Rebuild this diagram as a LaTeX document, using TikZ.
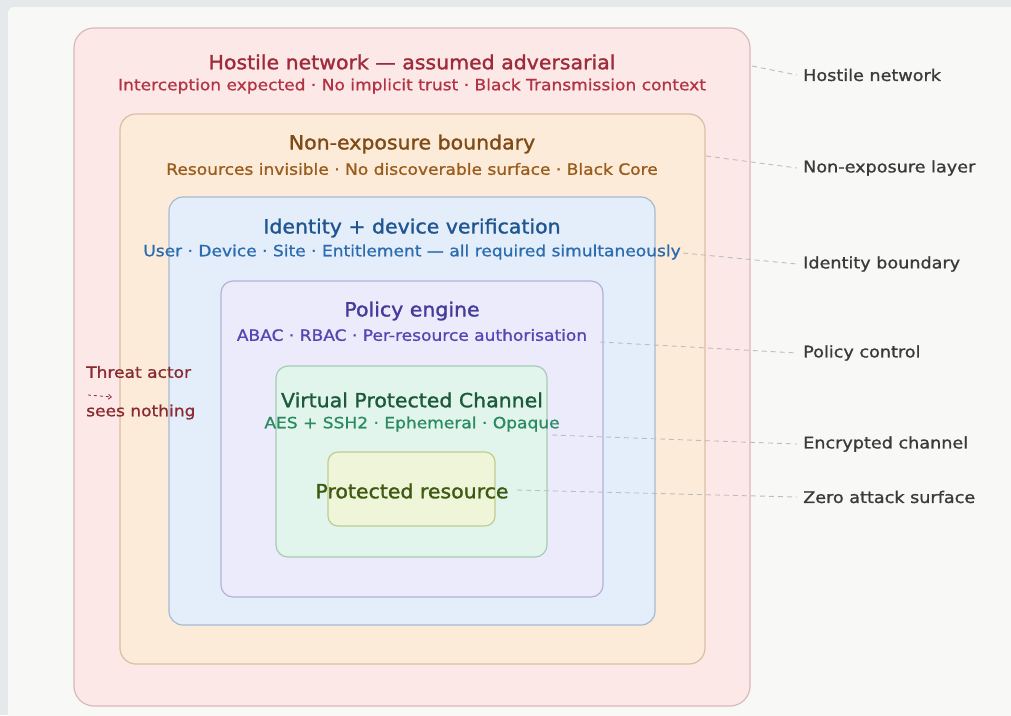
\documentclass[tikz,border=0pt]{standalone}
\usepackage{fontspec}
\setmainfont{DejaVu Sans}
\newfontfamily\ttlfont{DejaVu Sans}[FakeStretch=1.05, FakeBold=1.4]
\newfontfamily\subfont{DejaVu Sans}[FakeStretch=1.1, FakeBold=1.0]
\usetikzlibrary{arrows.meta}
\definecolor{pagebg}{HTML}{F8F8F6}
\definecolor{framebg}{HTML}{E6E9EC}
\definecolor{hostF}{HTML}{FDE8E8}\definecolor{hostD}{HTML}{D9B9B9}
\definecolor{hostT}{HTML}{9E2B3A}\definecolor{hostS}{HTML}{B23444}
\definecolor{nonF}{HTML}{FCEBD8}\definecolor{nonD}{HTML}{D9BFA3}
\definecolor{nonT}{HTML}{7F4A14}\definecolor{nonS}{HTML}{9A5C1C}
\definecolor{idF}{HTML}{E4EEFB}\definecolor{idD}{HTML}{A8BAD3}
\definecolor{idT}{HTML}{1F5590}\definecolor{idS}{HTML}{2B6CB0}
\definecolor{polF}{HTML}{ECEBFB}\definecolor{polD}{HTML}{B4B1D7}
\definecolor{polT}{HTML}{463A9A}\definecolor{polS}{HTML}{5545B5}
\definecolor{vpcF}{HTML}{E2F5EC}\definecolor{vpcD}{HTML}{A6CCB6}
\definecolor{vpcT}{HTML}{1C5A3C}\definecolor{vpcS}{HTML}{2A8A62}
\definecolor{resF}{HTML}{EEF5D9}\definecolor{resD}{HTML}{C1CD8F}
\definecolor{resT}{HTML}{3F5A10}
\definecolor{threatC}{HTML}{8A2A30}
\definecolor{sideC}{HTML}{3A3A3A}
\definecolor{leadC}{HTML}{BDBDBD}
\tikzset{
  layer/.style={draw=#1, line width=1.2pt, rounded corners=16pt},
  ttl/.style={font=\ttlfont\fontsize{19.5}{22}\selectfont, text=#1, inner sep=0pt},
  sub/.style={font=\subfont\fontsize{15.5}{17}\selectfont, text=#1, inner sep=0pt},
  side/.style={font=\subfont\fontsize{16}{18}\selectfont, text=sideC, anchor=west, inner sep=0pt},
  leader/.style={draw=leadC, line width=0.9pt, dash pattern=on 5pt off 4pt},
}
\begin{document}
\begin{tikzpicture}[x=1pt,y=-1pt]
\useasboundingbox (0,0) rectangle (1011,715);
\fill[framebg] (0,0) rectangle (1011,715);
\fill[pagebg, rounded corners=6pt] (8,7) rectangle (1030,730);
% layers
\draw[layer=hostD, fill=hostF, rounded corners=20pt] (74,28) rectangle (750,706);
\draw[layer=nonD, fill=nonF] (120,114) rectangle (705,664);
\draw[layer=idD, fill=idF, rounded corners=14pt] (169,197) rectangle (655,625);
\draw[layer=polD, fill=polF, rounded corners=12pt] (221,281) rectangle (603,597);
\draw[layer=vpcD, fill=vpcF, rounded corners=12pt] (276,366) rectangle (547,557);
\draw[layer=resD, fill=resF, rounded corners=10pt] (328,452) rectangle (495,526);
% titles
\node[ttl=hostT] (hostTitle) at (412,62) {Hostile network — assumed adversarial};
\node[sub=hostS] (hostSub) at (412,86) {Interception expected · No implicit trust · Black Transmission context};
\node[ttl=nonT] (nonTitle) at (412,144) {Non-exposure boundary};
\node[sub=nonS] (nonSub) at (412,169) {Resources invisible · No discoverable surface · Black Core};
\node[ttl=idT] (idTitle) at (412,228) {Identity + device verification};
\node[sub=idS] (idSub) at (412,252) {User · Device · Site · Entitlement — all required simultaneously};
\node[ttl=polT] (polTitle) at (412,311) {Policy engine};
\node[sub=polS] (polSub) at (412,335) {ABAC · RBAC · Per-resource authorisation};
\node[ttl=vpcT] (vpcTitle) at (412,400) {Virtual Protected Channel};
\node[sub=vpcS] (vpcSub) at (412,424) {AES + SSH2 · Ephemeral · Opaque};
\node[ttl=resT] (resTitle) at (412,491) {Protected resource};
% threat actor
\node[sub=threatC, anchor=west] (threatA) at (86,372) {Threat actor};
\node[sub=threatC, anchor=west] (threatB) at (86,412) {sees nothing};
\coordinate (arrS) at (88,395);
\coordinate (arrE) at (112,397);
\draw[threatC, line width=0.8pt, dash pattern=on 3pt off 3pt, -{Straight Barb[length=3pt,width=5pt]}] (arrS) -- (arrE);
% side labels
\node[side] (lHost) at (803,75) {Hostile network};
\node[side] (lNon) at (803,168) {Non-exposure layer};
\node[side] (lId) at (803,264) {Identity boundary};
\node[side] (lPol) at (803,353) {Policy control};
\node[side] (lEnc) at (803,444) {Encrypted channel};
\node[side] (lZero) at (803,497) {Zero attack surface};
\coordinate (sHost) at (752,66);
\coordinate (sNon) at (706,156);
\coordinate (sId) at (683,253);
\coordinate (sPol) at (600,342);
\coordinate (sEnc) at (552,435);
\coordinate (sZero) at (517,490);
\draw[leader] (sHost) -- ([xshift=-6pt]lHost.west);
\draw[leader] (sNon) -- ([xshift=-6pt]lNon.west);
\draw[leader] (sId) -- ([xshift=-6pt]lId.west);
\draw[leader] (sPol) -- ([xshift=-6pt]lPol.west);
\draw[leader] (sEnc) -- ([xshift=-6pt]lEnc.west);
\draw[leader] (sZero) -- ([xshift=-6pt]lZero.west);
\end{tikzpicture}
\end{document}
